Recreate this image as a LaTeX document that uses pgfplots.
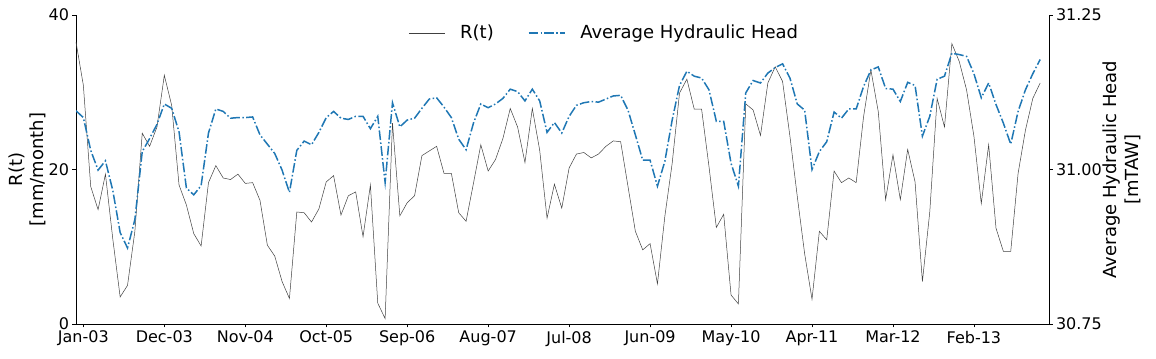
\documentclass[border=0pt]{standalone}
\usepackage{fontspec}
\setmainfont{DejaVu Sans}
\usepackage{pgfplots}
\usepackage{pgfplotstable}
\pgfplotsset{compat=1.18}
\definecolor{tabblue}{HTML}{1F77B4}

% month index (0 = Dec-02), R(t) in mm/month, head in mTAW
\pgfplotstableread{
i R H
0 36.5 31.095
1 30.9 31.084
2 17.8 31.031
3 14.8 30.999
4 19.4 31.014
5 11.0 30.966
6 3.5 30.898
7 5.0 30.873
8 12.0 30.919
9 24.7 31.029
10 23.0 31.050
11 25.5 31.073
12 32.2 31.106
13 28.3 31.099
14 18.0 31.061
15 15.4 30.970
16 11.7 30.959
17 10.1 30.974
18 18.3 31.059
19 20.5 31.098
20 18.9 31.094
21 18.7 31.083
22 19.4 31.084
23 18.2 31.084
24 18.3 31.085
25 16.0 31.056
26 10.2 31.041
27 8.8 31.026
28 5.5 30.999
29 3.3 30.963
30 14.5 31.031
31 14.4 31.046
32 13.2 31.040
33 14.9 31.060
34 18.4 31.084
35 19.2 31.094
36 14.1 31.083
37 16.6 31.081
38 17.1 31.086
39 11.3 31.086
40 18.0 31.066
41 2.7 31.086
42 0.7 30.979
43 26.0 31.108
44 14.0 31.069
45 15.7 31.080
46 16.6 31.083
47 21.8 31.099
48 22.4 31.114
49 23.0 31.116
50 19.5 31.101
51 19.5 31.084
52 14.4 31.049
53 13.3 31.032
54 18.2 31.075
55 23.2 31.106
56 19.8 31.100
57 21.3 31.106
58 24.0 31.115
59 27.9 31.130
60 25.5 31.126
61 20.9 31.111
62 27.9 31.130
63 22.5 31.111
64 13.7 31.060
65 18.1 31.076
66 15.0 31.059
67 20.2 31.086
68 22.0 31.104
69 22.2 31.108
70 21.5 31.110
71 22.0 31.109
72 23.0 31.114
73 23.7 31.119
74 23.6 31.120
75 17.8 31.096
76 12.0 31.056
77 9.6 31.015
78 10.4 31.015
79 5.2 30.973
80 13.9 31.013
81 20.8 31.080
82 29.9 31.136
83 31.7 31.159
84 27.8 31.151
85 27.8 31.148
86 20.4 31.129
87 12.5 31.078
88 14.2 31.078
89 3.75 31.010
90 2.6 30.973
91 28.5 31.124
92 27.7 31.144
93 24.4 31.140
94 31.2 31.156
95 33.3 31.165
96 31.4 31.171
97 24.3 31.148
98 16.5 31.106
99 9.1 31.096
100 3.2 31.000
101 12.0 31.029
102 10.9 31.045
103 19.8 31.093
104 18.3 31.083
105 18.9 31.098
106 18.3 31.098
107 26.8 31.134
108 32.9 31.161
109 27.5 31.166
110 16.1 31.131
111 21.9 31.130
112 16.1 31.110
113 22.6 31.141
114 18.4 31.136
115 5.5 31.054
116 14.5 31.086
117 29.2 31.146
118 25.5 31.151
119 36.3 31.188
120 34.0 31.186
121 30.3 31.183
122 24.3 31.155
123 15.6 31.116
124 23.2 31.140
125 12.4 31.105
126 9.4 31.075
127 9.4 31.041
128 19.5 31.094
129 25.1 31.129
130 29.2 31.155
131 31.2 31.178
}\datatable

\pgfplotsset{
  twin/.style={
    at={(0,0)}, anchor=south west, scale only axis,
    width=973bp, height=309bp, xmin=0, xmax=132.2,
    tick align=outside, major tick length=3.5bp,
    every tick/.style={black, line width=0.8bp},
    axis line style={line width=0.8bp},
    tick label style={font=\fontsize{16bp}{19bp}\selectfont},
  }
}

\begin{document}
\begin{tikzpicture}
\path[use as bounding box] (-76bp,-35bp) rectangle (1080bp,324bp);
\begin{axis}[twin,
  ymin=0, ymax=40,
  axis x line*=bottom, axis y line*=left,
  xtick={1,12,23,34,45,56,67,78,89,100,111,122},
  xticklabels={Jan-03,Dec-03,Nov-04,Oct-05,Sep-06,Aug-07,Jul-08,Jun-09,May-10,Apr-11,Mar-12,Feb-13},
  ytick={0,20,40}, yticklabels={0,20,40},
  every axis y label/.style={at={(axis description cs:0,0.5)}, xshift=-48.5bp, rotate=90, anchor=center,
    font=\fontsize{18bp}{21.6bp}\selectfont, align=center},
  ylabel={R(t)\\{[}mm/month{]}},
  legend columns=2,
  legend image code/.code={\draw[#1] (0bp,0bp) -- (36bp,0bp);},
  legend style={at={(axis description cs:0.542,1.0)}, anchor=north, yshift=-6bp, draw=none, fill=none,
    font=\fontsize{18bp}{21.6bp}\selectfont, nodes={inner xsep=0bp, inner ysep=2bp}},
]
\addplot[black!75, line width=0.5bp] table[x=i, y=R] {\datatable};
\addlegendentry{\rule{15bp}{0pt}R(t)\rule{34bp}{0pt}}
\addlegendimage{tabblue, line width=1.5bp, dash pattern=on 9.6bp off 2.4bp on 1.5bp off 2.4bp}
\addlegendentry{\rule{15bp}{0pt}Average Hydraulic Head}
\end{axis}
\begin{axis}[twin,
  ymin=30.75, ymax=31.25,
  axis x line=none, axis y line*=right,
  ytick={30.75,31,31.25}, yticklabels={30.75,31.00,31.25},
  every axis y label/.style={at={(axis description cs:1,0.5)}, xshift=73bp, rotate=90, anchor=center,
    font=\fontsize{18bp}{21.6bp}\selectfont, align=center},
  ylabel={Average Hydraulic Head\\{[}mTAW{]}},
]
\addplot[tabblue, line width=1.5bp, dash pattern=on 9.6bp off 2.4bp on 1.5bp off 2.4bp] table[x=i, y=H] {\datatable};
\end{axis}
\end{tikzpicture}
\end{document}
